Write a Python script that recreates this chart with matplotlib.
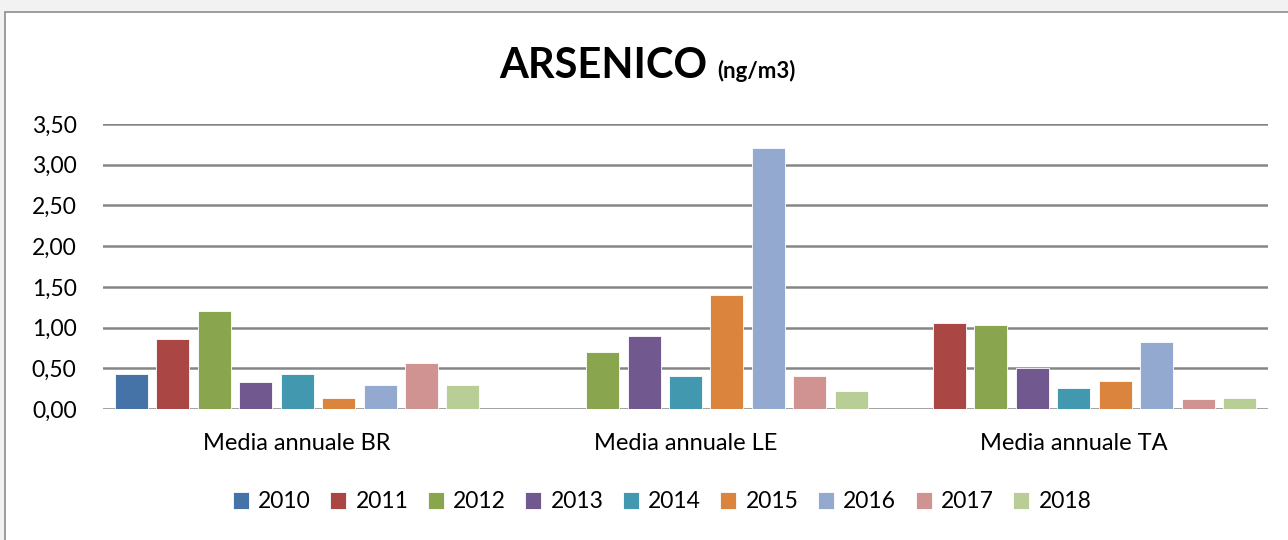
import matplotlib.pyplot as plt
import matplotlib.patches as mpatches
import numpy as np

plt.rcParams['font.family'] = ['Lato', 'DejaVu Sans']

stations = ['Media annuale BR', 'Media annuale LE', 'Media annuale TA']
years = ['2010', '2011', '2012', '2013', '2014', '2015', '2016', '2017', '2018']

# values per year: BR, LE, TA (nan = no data)
v2010 = [0.43, np.nan, np.nan]
v2011 = [0.86, np.nan, 1.06]
v2012 = [1.20, 0.70, 1.03]
v2013 = [0.33, 0.90, 0.50]
v2014 = [0.43, 0.40, 0.26]
v2015 = [0.13, 1.40, 0.34]
v2016 = [0.30, 3.20, 0.82]
v2017 = [0.56, 0.40, 0.12]
v2018 = [0.30, 0.22, 0.14]
values = [v2010, v2011, v2012, v2013, v2014, v2015, v2016, v2017, v2018]

colors = ['#4572A7', '#AA4643', '#89A54E', '#71588F', '#4198AF',
          '#DB843D', '#93A9CF', '#D19392', '#B9CD96']

fig = plt.figure(figsize=(12.88, 5.4), dpi=100)
fig.patch.set_facecolor('#f2f2f2')
# white chart area with border
fig.patches.append(mpatches.Rectangle((5 / 1288, -0.01), 1.1, 1 - 12 / 540 + 0.01,
                                      transform=fig.transFigure, facecolor='white',
                                      edgecolor='#8c8c8c', linewidth=1.2, zorder=-5))

ax = fig.add_axes([103 / 1288, 1 - 409 / 540, (1268 - 103) / 1288, (409 - 124) / 540])
ax.set_facecolor('none')

x = np.arange(len(stations))
step = 0.1067
width = 0.085
for i, (yr, vals, c) in enumerate(zip(years, values, colors)):
    ax.bar(x + (i - 4) * step, vals, width=width, color=c, label=yr,
           edgecolor='white', linewidth=0.6, zorder=3)

ax.set_xlim(-0.5, 2.5)
ax.set_ylim(0, 3.5)
yt = np.arange(0, 3.51, 0.5)
ax.set_yticks(yt)
ax.set_yticklabels([f'{v:.2f}'.replace('.', ',') for v in yt], fontsize=16.5)
ax.set_xticks(x)
ax.set_xticklabels(stations, fontsize=17)
ax.tick_params(axis='x', length=0, pad=17)
ax.tick_params(axis='y', length=0, pad=19)
ax.grid(axis='y', color='#868686', linewidth=1.8, zorder=0)
for s in ax.spines.values():
    s.set_visible(False)

fig.text(0.549, 1 - 66 / 540, 'ARSENICO', fontsize=30, fontweight='bold', ha='right',
         va='center')
fig.text(0.557, 1 - 71 / 540, '(ng/m3)', fontsize=16, fontweight='bold', ha='left', va='center')

ax.legend(loc='center', bbox_to_anchor=(0.514, 1 - 502 / 540), bbox_transform=fig.transFigure,
          ncol=9, frameon=False, fontsize=16.5, handlelength=0.7, handleheight=0.7,
          handletextpad=0.4, columnspacing=0.85)

fig.savefig('out.png', dpi=100, facecolor=fig.get_facecolor())
